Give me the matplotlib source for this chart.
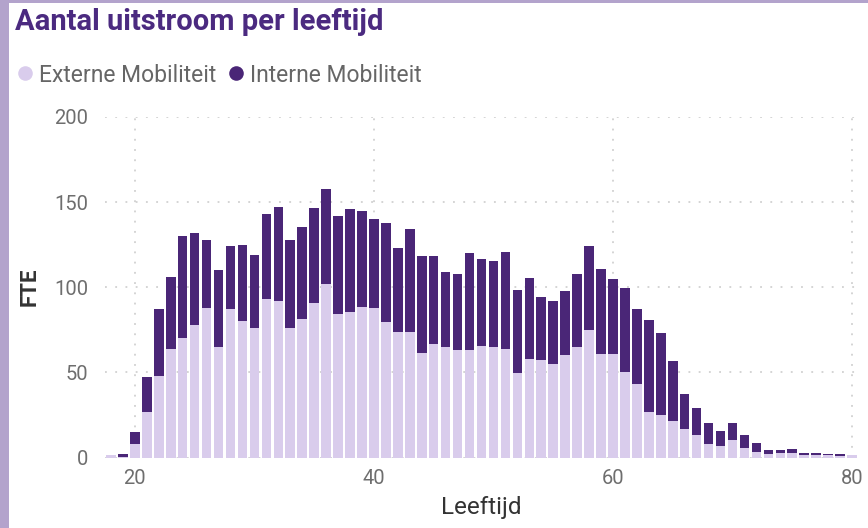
import matplotlib
matplotlib.use("Agg")
import matplotlib.pyplot as plt
from matplotlib.patches import Rectangle
from matplotlib.lines import Line2D

# Outflow (FTE) per age, split by mobility type
ages = list(range(18, 81))
externe = [1.5, 0.5, 8, 27, 48, 64, 70, 78, 88, 65,
           87, 80, 76, 93, 92, 76, 81.5, 90.5, 102, 84,
           85.5, 88.5, 88, 79.5, 74, 74, 61.5, 66.5, 65, 63,
           63, 65.5, 65, 64, 49.5, 58, 57, 55, 60, 65,
           75, 61, 60.5, 50, 43, 27, 25, 21.5, 16.5, 13,
           8, 7, 10, 5.5, 3.5, 2, 2.5, 2.5, 1.5, 1.2,
           1.5, 1, 1.6]
interne = [0, 1.7, 7, 20, 39, 42, 60, 54, 40, 45,
           37.5, 45, 43, 50, 55, 52, 54, 56, 56, 58,
           60.5, 56.5, 52, 58, 49, 60, 57, 52, 44, 45,
           57, 51, 50.5, 56.5, 49, 47.5, 37.5, 37, 38, 43,
           49.5, 50, 44.5, 49.5, 44, 53.5, 48, 35, 21, 16,
           12, 8.5, 10, 8, 5, 2.5, 2, 2.5, 1, 1.4,
           0.4, 1, 0]

series_names = ["Externe Mobiliteit", "Interne Mobiliteit"]
x_ticks = [20, 40, 60, 80]
y_ticks = [0, 50, 100, 150, 200]

title_text = "Aantal uitstroom per leeftijd"
x_label = "Leeftijd"
y_label = "FTE"

light = "#D9CCEC"
dark = "#4A2677"
frame = "#B3A3CC"
grid_col = "#C9C9C9"
tick_col = "#6E6E6E"

plt.rcParams["font.family"] = ["Roboto", "DejaVu Sans"]

fig = plt.figure(figsize=(8.68, 5.28), dpi=100)
fig.patch.set_facecolor("white")

# lavender frame on the left and top edges
fig.add_artist(Rectangle((0, 0), 9 / 868, 1, transform=fig.transFigure,
                         facecolor=frame, edgecolor="none", zorder=0))
fig.add_artist(Rectangle((0, 1 - 3 / 528), 1, 3 / 528, transform=fig.transFigure,
                         facecolor=frame, edgecolor="none", zorder=0))

ax = fig.add_axes([105 / 868, 1 - 457.5 / 528, 753 / 868, (457.5 - 117) / 528])

bw = 0.8
ax.bar(ages, externe, width=bw, color=light, edgecolor="none", zorder=3)
ax.bar(ages, interne, width=bw, bottom=externe, color=dark, edgecolor="none", zorder=3)

ax.set_xlim(17.5, 80.5)
ax.set_ylim(0, 200)
ax.set_xticks(x_ticks)
ax.set_yticks(y_ticks)

for s in ax.spines.values():
    s.set_visible(False)

dots = (0, (1.2, 5.5))
for yv in y_ticks:
    ax.axhline(yv, color=grid_col, lw=1.1, linestyle=dots, zorder=1)
for xv in x_ticks:
    ax.axvline(xv, color=grid_col, lw=1.1, linestyle=dots, zorder=1)

ax.tick_params(axis="both", length=0, labelsize=14.5, labelcolor=tick_col)
ax.tick_params(axis="y", pad=12)
ax.tick_params(axis="x", pad=8)

ax.set_xlabel(x_label, fontsize=17.5, color="#333333", labelpad=6)
ax.set_ylabel(y_label, fontsize=16, color="#333333", fontweight="bold", labelpad=10)

fig.text(15 / 868, 1 - 22 / 528, title_text, fontsize=21, fontweight="bold",
         color="#4B2A80", va="center", ha="left")

handles = [Line2D([], [], marker="o", linestyle="none", markersize=10.5,
                  markerfacecolor=c, markeredgecolor="none") for c in (light, dark)]
fig.legend(handles, series_names, loc="center left",
           bbox_to_anchor=(14 / 868, 1 - 75 / 528), ncol=2, frameon=False,
           fontsize=16.5, labelcolor="#666666", handletextpad=0.1,
           columnspacing=0.35, handlelength=1.0, borderaxespad=0, borderpad=0)

fig.savefig("out.png", dpi=100, facecolor="white")
